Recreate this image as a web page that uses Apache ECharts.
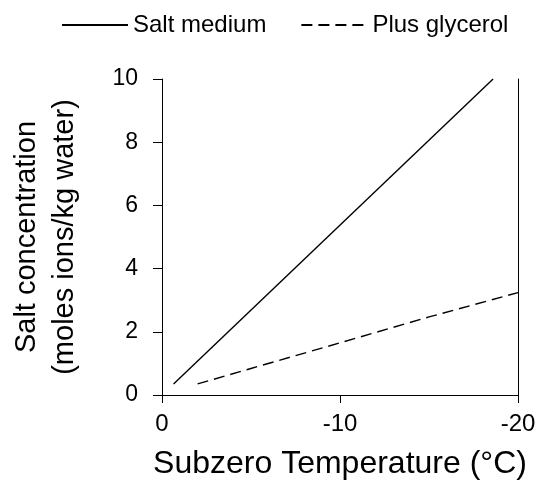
<!DOCTYPE html>
<html>
<head>
<meta charset="utf-8">
<script src="https://cdn.jsdelivr.net/npm/echarts@6/dist/echarts.min.js"></script>
<style>
  html, body { margin: 0; padding: 0; background: #fff; }
  #chart { width: 539px; height: 488px; }
</style>
</head>
<body>
<div id="chart"></div>
<script>
// Subzero temperature (°C) vs salt concentration (moles ions/kg water)
const saltTemp = [-0.65, -18.6];
const saltConc = [0.35, 10];
const glycTemp = [-2, -5, -10, -15, -20];
const glycConc = [0.35, 0.84, 1.65, 2.47, 3.24];
const xTicks = [0, -10, -20];
const yTicks = [0, 2, 4, 6, 8, 10];

const FONT = '"Liberation Sans", Arial, sans-serif';

function pairs(xs, ys) {
    return xs.map(function(x, i) { return [x, ys[i]]; });
}

const chart = echarts.init(document.getElementById('chart'));
chart.setOption({
    animation: false,
    backgroundColor: '#fff',
    textStyle: { fontFamily: FONT, color: '#000' },
    legend: {
        left: 56,
        top: 8,
        itemWidth: 66,
        itemHeight: 14,
        itemGap: 34,
        itemStyle: { opacity: 0 },
        textStyle: { fontSize: 24, color: '#000', fontFamily: FONT },
        data: ['Salt medium', 'Plus glycerol']
    },
    grid: { left: 161, right: 21, top: 79, bottom: 93 },
    xAxis: {
        type: 'value',
        min: xTicks[2],
        max: xTicks[0],
        interval: 10,
        inverse: true,
        name: 'Subzero Temperature (°C)',
        nameLocation: 'middle',
        nameGap: 53,
        nameTextStyle: { fontSize: 32, color: '#000', fontFamily: FONT },
        axisLine: { lineStyle: { color: '#000', width: 1 } },
        axisTick: { show: true, inside: false, length: 8, lineStyle: { color: '#000' } },
        axisLabel: { fontSize: 24, color: '#000', margin: 17, fontFamily: FONT },
        splitLine: { show: false }
    },
    yAxis: [{
        type: 'value',
        min: yTicks[0],
        max: yTicks[yTicks.length - 1],
        interval: 2,
        name: 'Salt concentration\n(moles ions/kg water)',
        nameLocation: 'middle',
        nameGap: 78,
        nameTextStyle: { fontSize: 29, lineHeight: 38, color: '#000', fontFamily: FONT },
        axisLine: { show: true, lineStyle: { color: '#000', width: 1 } },
        axisTick: { show: true, inside: false, length: 9, lineStyle: { color: '#000' } },
        axisLabel: { fontSize: 23, color: '#000', margin: 24, fontFamily: FONT },
        splitLine: { show: false }
    }, {
        type: 'value',
        position: 'right',
        min: yTicks[0],
        max: yTicks[yTicks.length - 1],
        interval: 2,
        axisLine: { show: true, lineStyle: { color: '#000', width: 1 } },
        axisTick: { show: false },
        axisLabel: { show: false },
        splitLine: { show: false }
    }],
    series: [{
        name: 'Salt medium',
        type: 'line',
        data: pairs(saltTemp, saltConc),
        symbol: 'none',
        lineStyle: { color: '#000', width: 1.4, type: 'solid' },
        itemStyle: { color: '#000' }
    }, {
        name: 'Plus glycerol',
        type: 'line',
        data: pairs(glycTemp, glycConc),
        symbol: 'none',
        lineStyle: { color: '#000', width: 1.4, type: [11, 6] },
        itemStyle: { color: '#000' }
    }]
});
</script>
</body>
</html>
